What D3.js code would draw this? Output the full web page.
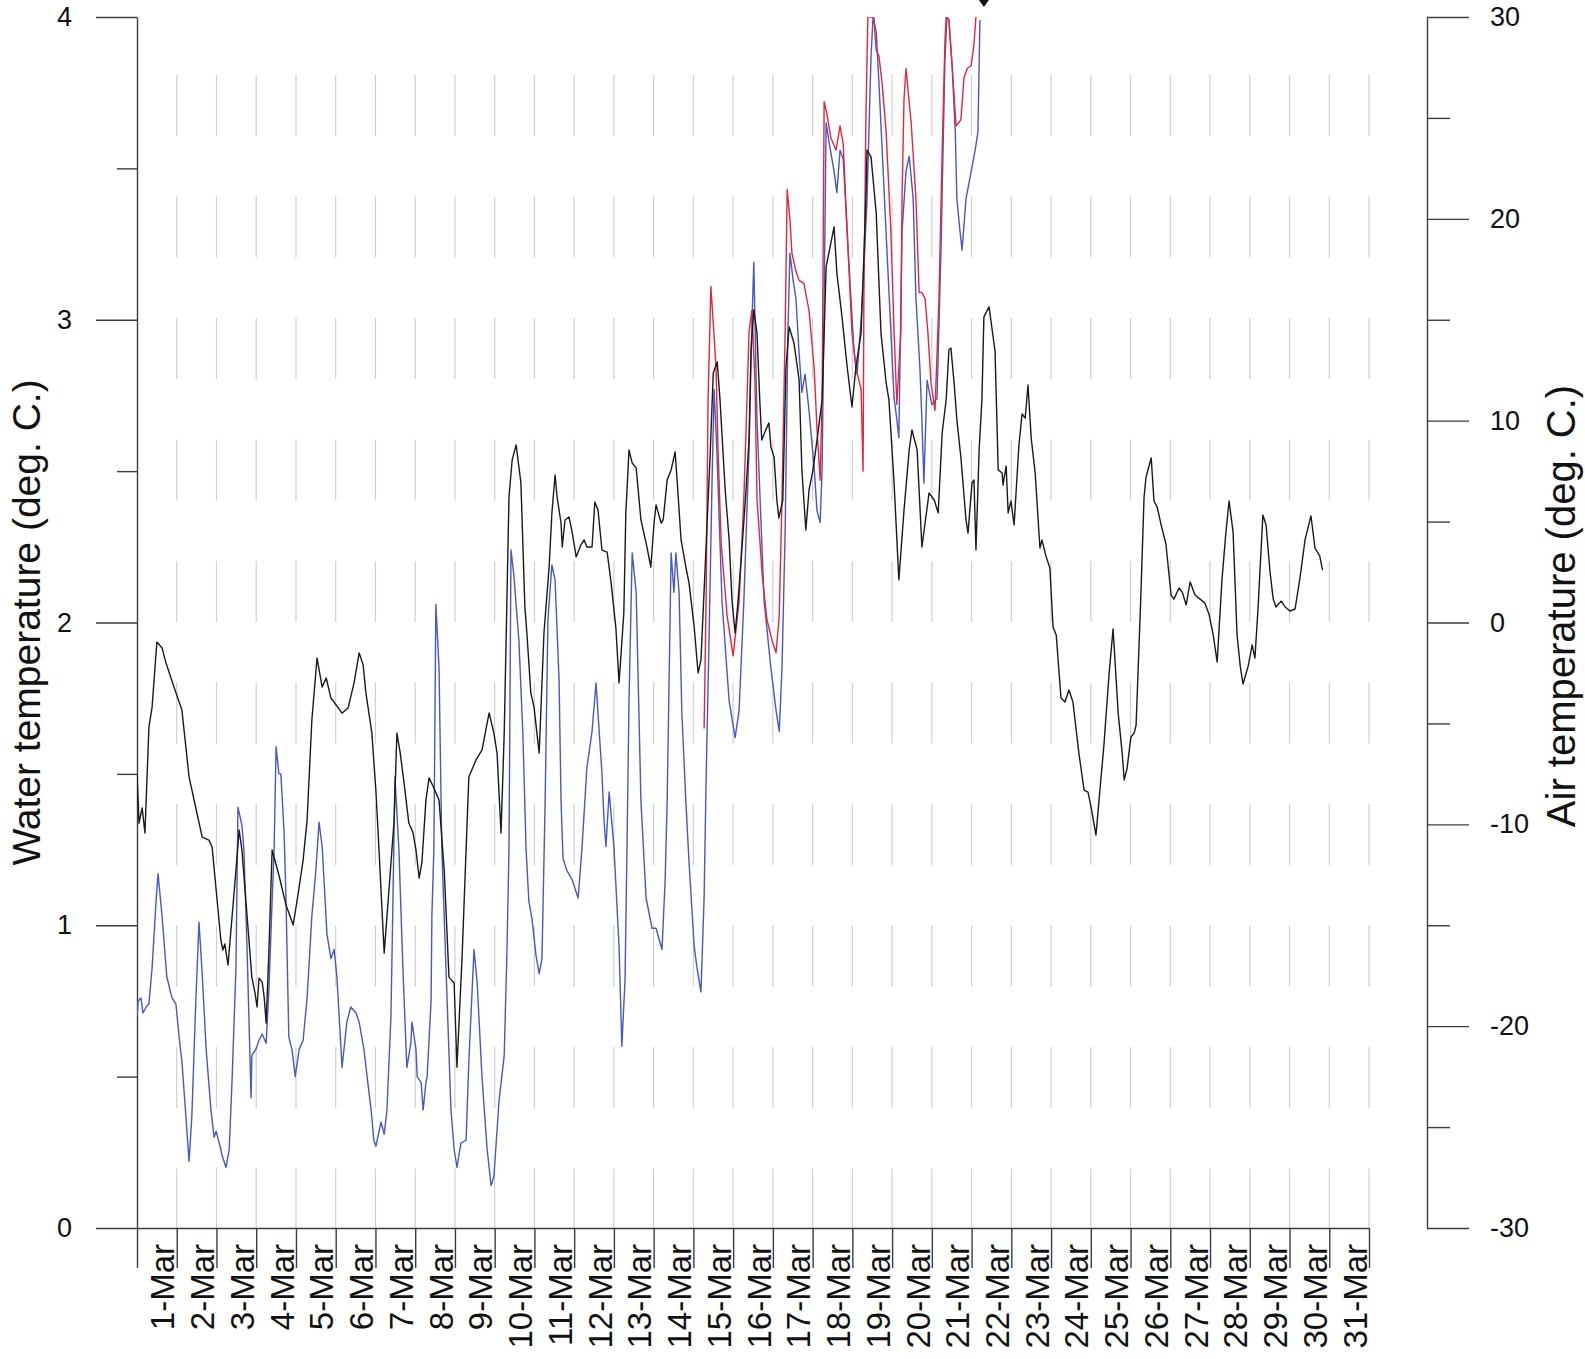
<!DOCTYPE html>
<meta charset="utf-8">
<head>
<title>Water and air temperature, March</title>
<style>
  body { margin: 0; background: #fff; }
  svg { display: block; background: #fff; }
  .grid line { stroke: #d0d0d0; stroke-width: 1.2px; stroke-dasharray: 61 60.5; }
  .axis path, .axis line { fill: none; stroke: #3c3c3c; stroke-width: 1.4px; }
  .axis text { fill: #111; }
  .series { fill: none; stroke-width: 1.4px; stroke-linejoin: round; }
</style>
</head>
<body>
<svg width="1585" height="1359"></svg>
<script src="https://cdn.jsdelivr.net/npm/d3@7"></script>
<script>
// x is days since 1-Mar 00:00
var dayLabels = ["1-Mar","2-Mar","3-Mar","4-Mar","5-Mar","6-Mar","7-Mar","8-Mar","9-Mar","10-Mar",
  "11-Mar","12-Mar","13-Mar","14-Mar","15-Mar","16-Mar","17-Mar","18-Mar","19-Mar","20-Mar",
  "21-Mar","22-Mar","23-Mar","24-Mar","25-Mar","26-Mar","27-Mar","28-Mar","29-Mar","30-Mar","31-Mar"];
var waterTicks = [0, 1, 2, 3, 4];
var waterMinor = [0.5, 1.5, 2.5, 3.5];
var airTicks = [-30, -20, -10, 0, 10, 20, 30];
var airMinor = [-25, -15, -5, 5, 15, 25];

// air temperature (black, right axis)
var airDay = [0.00,0.03,0.05,0.13,0.20,0.30,0.38,0.50,0.63,0.73,0.93,1.13,1.31,1.48,1.64,1.81,1.89,2.11,2.16,2.21,
  2.29,2.49,2.57,2.64,2.89,2.97,3.02,3.07,3.15,3.20,3.25,3.32,3.40,3.57,3.75,3.93,4.05,4.18,4.28,4.40,
  4.53,4.66,4.76,4.88,5.16,5.31,5.46,5.59,5.69,5.76,5.91,6.01,6.09,6.22,6.34,6.47,6.54,6.62,6.72,6.84,
  6.94,7.02,7.10,7.17,7.27,7.35,7.47,7.60,7.73,7.85,7.98,8.05,8.18,8.28,8.35,8.53,8.68,8.86,8.98,9.06,
  9.16,9.24,9.36,9.44,9.54,9.66,9.76,9.81,9.91,9.99,10.12,10.24,10.37,10.44,10.52,10.57,10.67,10.70,10.77,10.87,
  10.95,11.05,11.17,11.25,11.32,11.45,11.52,11.60,11.70,11.83,11.93,12.05,12.13,12.25,12.30,12.38,12.46,12.56,12.68,12.81,
  12.93,13.01,13.06,13.19,13.24,13.34,13.44,13.54,13.59,13.69,13.81,13.89,14.02,14.09,14.12,14.19,14.29,14.34,14.42,14.50,
  14.60,14.67,14.80,14.90,14.97,15.05,15.12,15.22,15.32,15.40,15.45,15.52,15.60,15.67,15.72,15.82,15.90,15.95,16.03,16.10,
  16.15,16.25,16.33,16.41,16.53,16.66,16.73,16.83,16.91,17.01,17.11,17.24,17.34,17.54,17.61,17.74,17.87,17.99,18.09,18.22,
  18.34,18.37,18.47,18.60,18.72,18.85,18.92,19.05,19.17,19.30,19.43,19.50,19.63,19.75,19.93,20.06,20.16,20.26,20.36,20.43,
  20.48,20.56,20.63,20.73,20.86,20.91,21.01,21.06,21.11,21.19,21.26,21.31,21.44,21.59,21.67,21.77,21.79,21.87,21.92,21.99,
  22.07,22.19,22.27,22.35,22.42,22.50,22.60,22.72,22.77,22.87,22.97,23.05,23.13,23.25,23.35,23.45,23.55,23.70,23.83,23.93,
  24.01,24.13,24.33,24.46,24.56,24.69,24.79,24.84,24.91,25.01,25.09,25.14,25.26,25.34,25.39,25.52,25.59,25.67,25.77,25.89,
  26.02,26.09,26.22,26.30,26.40,26.50,26.62,26.75,26.87,26.98,27.08,27.18,27.30,27.40,27.48,27.58,27.68,27.76,27.83,27.96,
  28.06,28.13,28.21,28.33,28.41,28.51,28.59,28.66,28.79,28.89,29.01,29.14,29.27,29.39,29.54,29.64,29.76,29.83];
var airTemp = [-7.56,-8.80,-9.94,-9.19,-10.43,-5.18,-4.19,-0.97,-1.26,-2.01,-3.20,-4.34,-7.65,-9.19,-10.63,-10.78,-11.12,-15.73,-16.23,-15.93,
  -16.97,-12.27,-10.28,-11.27,-17.57,-18.36,-19.05,-17.62,-17.82,-18.56,-19.85,-16.23,-11.27,-12.51,-14.00,-14.99,-13.50,-11.77,-9.79,-4.83,
  -1.76,-3.20,-2.75,-3.74,-4.49,-4.24,-3.00,-1.51,-2.10,-3.49,-5.48,-8.30,-11.27,-16.38,-13.26,-9.79,-5.48,-6.42,-7.96,-9.94,
  -10.38,-11.27,-12.66,-11.87,-8.80,-7.70,-8.20,-8.80,-12.27,-17.57,-17.86,-22.03,-16.58,-11.27,-7.65,-6.81,-6.32,-4.48,-5.48,-6.47,
  -10.43,-5.48,6.22,8.05,8.80,6.91,0.77,-0.52,-3.49,-4.19,-6.47,-0.52,2.75,5.43,7.31,6.22,4.93,3.74,5.08,5.23,
  4.48,3.25,3.84,4.09,3.74,3.74,5.97,5.57,3.59,3.49,1.96,-0.27,-2.99,0.47,5.43,8.55,7.90,7.66,5.08,3.94,
  2.75,4.93,5.82,4.93,5.08,7.06,7.56,8.45,7.06,4.09,2.75,1.96,-0.22,-1.86,-2.50,-1.86,2.45,4.73,8.20,12.36,
  12.91,11.03,6.57,4.09,1.11,-0.52,0.97,3.59,6.42,9.04,13.50,15.49,14.35,11.03,9.04,9.54,9.89,8.70,8.20,6.07,
  5.18,6.07,12.66,14.64,13.85,12.02,7.56,4.58,6.57,7.56,9.04,11.03,17.62,19.60,17.32,15.14,12.66,10.68,12.66,14.35,
  20.94,23.41,23.07,20.29,14.35,11.87,11.03,6.91,2.11,5.57,8.55,9.54,8.55,3.74,6.42,6.07,5.43,9.39,11.03,13.50,
  13.60,11.87,10.04,8.20,5.08,4.43,6.91,7.06,3.59,8.55,11.03,15.14,15.64,13.45,7.56,7.41,6.81,7.75,5.43,6.02,
  4.83,8.75,10.33,10.13,11.77,9.14,7.41,3.69,4.09,3.30,2.70,-0.22,-0.62,-3.74,-3.94,-3.34,-3.94,-6.47,-8.30,-8.40,
  -9.19,-10.53,-6.07,-2.55,-0.32,-4.53,-6.47,-7.80,-7.26,-5.67,-5.48,-5.08,1.36,6.22,7.21,8.15,6.02,5.72,4.83,3.89,
  1.36,1.16,1.71,1.51,0.87,2.01,1.36,1.16,0.97,0.37,-0.62,-1.96,2.11,4.48,6.02,4.48,-0.62,-2.16,-3.05,-2.16,
  -1.11,-1.76,0.77,5.33,4.83,2.50,1.16,0.77,1.06,0.77,0.57,0.67,2.30,4.09,5.28,3.69,3.30,2.60];

// water temperature, first logger (blue, left axis)
var waterADay = [0.00,0.03,0.10,0.15,0.23,0.30,0.38,0.48,0.53,0.63,0.75,0.88,0.98,1.06,1.13,1.23,1.31,1.38,1.48,1.56,
  1.64,1.74,1.86,1.94,1.99,2.09,2.14,2.24,2.32,2.39,2.49,2.54,2.64,2.69,2.77,2.87,2.89,2.99,3.07,3.15,
  3.25,3.32,3.40,3.45,3.50,3.57,3.62,3.70,3.75,3.82,3.90,3.98,4.08,4.18,4.28,4.40,4.50,4.58,4.66,4.78,
  4.88,4.96,5.03,5.16,5.28,5.38,5.51,5.59,5.71,5.79,5.89,5.96,6.01,6.14,6.22,6.29,6.39,6.44,6.49,6.59,
  6.69,6.79,6.89,6.92,7.02,7.05,7.15,7.20,7.27,7.30,7.40,7.42,7.47,7.52,7.60,7.67,7.90,7.98,8.05,8.15,
  8.28,8.35,8.48,8.56,8.68,8.81,8.91,8.98,9.11,9.24,9.31,9.36,9.41,9.48,9.61,9.71,9.79,9.86,9.94,10.04,
  10.12,10.19,10.27,10.34,10.44,10.52,10.62,10.67,10.72,10.82,10.95,11.10,11.20,11.32,11.45,11.55,11.63,11.70,11.75,11.80,
  11.88,12.00,12.13,12.20,12.28,12.33,12.38,12.46,12.56,12.63,12.68,12.81,12.96,13.06,13.21,13.29,13.34,13.44,13.51,13.56,
  13.64,13.71,13.81,13.89,14.02,14.09,14.19,14.27,14.32,14.39,14.47,14.52,14.59,14.72,14.90,15.05,15.15,15.27,15.40,15.47,
  15.52,15.60,15.78,15.95,16.08,16.16,16.23,16.31,16.38,16.43,16.51,16.58,16.66,16.73,16.81,16.91,17.04,17.11,17.19,17.24,
  17.29,17.34,17.41,17.54,17.61,17.69,17.77,17.92,18.04,18.12,18.22,18.29,18.37,18.47,18.52,18.60,18.67,18.75,18.87,18.97,
  19.05,19.12,19.17,19.25,19.35,19.43,19.53,19.60,19.70,19.75,19.80,19.88,20.00,20.13,20.23,20.33,20.38,20.43,20.51,20.59,
  20.63,20.71,20.76,20.86,20.99,21.09,21.16,21.21];
var waterATemp = [0.70,0.75,0.76,0.71,0.73,0.74,0.86,1.08,1.17,1.03,0.83,0.76,0.74,0.63,0.55,0.37,0.22,0.37,0.75,1.01,
  0.84,0.59,0.39,0.30,0.32,0.27,0.24,0.20,0.26,0.48,0.86,1.39,1.33,1.25,0.92,0.43,0.57,0.59,0.62,0.64,
  0.61,0.79,1.08,1.25,1.59,1.50,1.50,1.31,1.08,0.63,0.59,0.50,0.59,0.62,0.76,1.03,1.18,1.34,1.26,0.97,
  0.89,0.92,0.83,0.53,0.68,0.73,0.71,0.68,0.59,0.50,0.39,0.29,0.27,0.35,0.31,0.39,0.70,1.08,1.49,1.25,
  0.86,0.53,0.61,0.68,0.59,0.50,0.48,0.39,0.48,0.50,0.75,1.03,1.25,2.06,1.85,1.25,0.39,0.26,0.20,0.28,
  0.29,0.55,0.92,0.81,0.50,0.26,0.14,0.17,0.42,0.57,0.92,1.25,2.24,2.16,1.94,1.63,1.25,1.08,1.02,0.90,
  0.84,0.89,1.41,2.01,2.19,2.14,1.81,1.41,1.22,1.18,1.15,1.09,1.26,1.52,1.64,1.80,1.64,1.50,1.35,1.26,
  1.44,1.26,0.93,0.60,0.82,1.26,1.74,2.23,2.10,1.70,1.41,1.09,0.99,0.99,0.92,1.15,1.41,2.23,2.10,2.23,
  2.10,1.70,1.41,1.21,0.93,0.86,0.78,1.09,1.48,1.92,2.47,2.77,2.57,2.07,1.74,1.62,1.71,2.07,2.57,2.97,
  3.19,2.67,2.07,1.85,1.71,1.64,1.85,2.31,2.97,3.22,3.13,3.07,2.89,2.76,2.82,2.70,2.51,2.37,2.33,2.51,
  3.07,3.65,3.59,3.49,3.42,3.56,3.53,3.17,2.90,2.82,3.00,3.17,3.40,3.87,4.00,3.95,3.78,3.56,3.23,2.96,
  2.74,2.67,2.61,3.29,3.49,3.54,3.40,3.07,2.84,2.67,2.46,2.80,2.72,2.74,3.23,3.86,4.00,3.99,3.84,3.62,
  3.40,3.29,3.23,3.40,3.49,3.56,3.62,3.99];

// water temperature, second logger (red, left axis)
var waterBDay = [14.27,14.32,14.37,14.44,14.49,14.57,14.62,14.70,14.85,15.00,15.15,15.27,15.35,15.40,15.47,15.55,15.60,15.73,15.85,15.98,
  16.08,16.16,16.23,16.31,16.36,16.43,16.48,16.58,16.66,16.78,16.91,17.04,17.11,17.19,17.24,17.29,17.36,17.46,17.59,17.69,
  17.77,17.87,17.99,18.09,18.22,18.27,18.29,18.34,18.39,18.54,18.60,18.67,18.75,18.85,18.97,19.05,19.12,19.22,19.25,19.30,
  19.35,19.48,19.60,19.68,19.75,19.83,19.90,19.98,20.08,20.18,20.26,20.33,20.36,20.43,20.51,20.61,20.73,20.81,20.89,20.99,
  21.06,21.11];
var waterBTemp = [1.65,2.07,2.74,3.11,3.01,2.84,2.57,2.26,2.02,1.89,2.07,2.41,2.74,2.96,3.03,2.80,2.41,2.16,2.01,1.94,
  1.90,2.02,2.41,2.97,3.43,3.33,3.22,3.16,3.13,3.12,3.03,2.84,2.64,2.47,2.74,3.72,3.68,3.60,3.56,3.64,
  3.58,3.29,2.96,2.84,2.77,2.50,3.07,3.66,4.00,4.00,3.89,3.87,3.78,3.62,3.29,2.96,2.72,2.96,3.40,3.73,
  3.83,3.65,3.40,3.09,3.09,3.07,2.96,2.79,2.70,3.07,3.56,3.92,4.00,3.99,3.84,3.64,3.66,3.80,3.83,3.84,
  3.91,4.00];

var svg = d3.select("svg"),
    plotLeft = 137, plotRight = 1369, plotTop = 17, plotBottom = 1228, airAxisX = 1427,
    font = "'Liberation Sans', Arial, sans-serif";

var x = d3.scaleLinear().domain([0, dayLabels.length]).range([plotLeft, plotRight]);
var yWater = d3.scaleLinear().domain([0, 4]).range([plotBottom, plotTop]);
var yAir = d3.scaleLinear().domain([-30, 30]).range([plotBottom, plotTop]);

var dayEdges = d3.range(0, dayLabels.length + 1);
var plainNumber = function(d) { return String(d); };   // hyphen-minus like the original

// dashed day gridlines
svg.append("g").attr("class", "grid")
  .selectAll("line").data(dayEdges.slice(1))
  .enter().append("line")
  .attr("x1", function(d) { return x(d); }).attr("x2", function(d) { return x(d); })
  .attr("y1", 75).attr("y2", plotBottom);

// x axis: ticks at day boundaries, labels centred in each day
svg.append("g").attr("class", "axis")
  .attr("transform", "translate(0," + plotBottom + ")")
  .call(d3.axisBottom(x).tickValues(dayEdges).tickSize(40).tickSizeOuter(0).tickFormat(""));

svg.append("g").selectAll("text").data(dayLabels)
  .enter().append("text")
  .attr("transform", function(d, i) { return "translate(" + (x(i + 0.5) + 6) + "," + (plotBottom + 16) + ") rotate(-90)"; })
  .attr("text-anchor", "end").attr("dy", "0.35em")
  .style("font-family", font).style("font-size", "33px").attr("fill", "#111")
  .text(function(d) { return d; });

// left axis (water)
svg.append("g").attr("class", "axis")
  .attr("transform", "translate(" + plotLeft + ",0)")
  .call(d3.axisLeft(yWater).tickValues(waterTicks).tickSize(41).tickPadding(24).tickSizeOuter(0).tickFormat(plainNumber));
svg.append("g").attr("class", "axis")
  .attr("transform", "translate(" + plotLeft + ",0)")
  .call(d3.axisLeft(yWater).tickValues(waterMinor).tickSize(20).tickFormat(""))
  .select(".domain").remove();

// right axis (air)
svg.append("g").attr("class", "axis")
  .attr("transform", "translate(" + airAxisX + ",0)")
  .call(d3.axisRight(yAir).tickValues(airTicks).tickSize(42).tickPadding(21).tickSizeOuter(0).tickFormat(plainNumber));
svg.append("g").attr("class", "axis")
  .attr("transform", "translate(" + airAxisX + ",0)")
  .call(d3.axisRight(yAir).tickValues(airMinor).tickSize(23).tickFormat(""))
  .select(".domain").remove();

svg.selectAll(".axis").attr("font-family", font).attr("font-size", 27);

// axis titles
svg.append("text")
  .attr("transform", "translate(40," + (plotTop + plotBottom) / 2 + ") rotate(-90)")
  .attr("text-anchor", "middle")
  .style("font-family", font).style("font-size", "39px").attr("fill", "#111")
  .text("Water temperature (deg. C.)");
svg.append("text")
  .attr("transform", "translate(1575,606) rotate(-90)")
  .attr("text-anchor", "middle")
  .style("font-family", font).style("font-size", "40px").attr("fill", "#111")
  .text("Air temperature (deg. C.)");

// series
svg.append("clipPath").attr("id", "plotClip").append("rect")
  .attr("x", plotLeft).attr("y", plotTop).attr("width", plotRight - plotLeft).attr("height", plotBottom - plotTop);

var plot = svg.append("g").attr("clip-path", "url(#plotClip)");

var waterLine = d3.line().x(function(d) { return x(d[0]); }).y(function(d) { return yWater(d[1]); });
var airLine = d3.line().x(function(d) { return x(d[0]); }).y(function(d) { return yAir(d[1]); });

plot.append("path").attr("class", "series")
  .attr("d", waterLine(d3.zip(waterADay, waterATemp))).attr("stroke", "#4757c4");
plot.append("path").attr("class", "series")
  .attr("d", waterLine(d3.zip(waterBDay, waterBTemp))).attr("stroke", "#e3263d");
plot.append("path").attr("class", "series")
  .attr("d", airLine(d3.zip(airDay, airTemp))).attr("stroke", "#1a1a1a");

// small marker arrow at the top edge
var arrowX = x(21.31);
svg.append("path")
  .attr("d", "M" + (arrowX - 5) + ",0L" + (arrowX + 5) + ",0L" + arrowX + ",7Z")
  .attr("fill", "#111");
</script>
</body>
